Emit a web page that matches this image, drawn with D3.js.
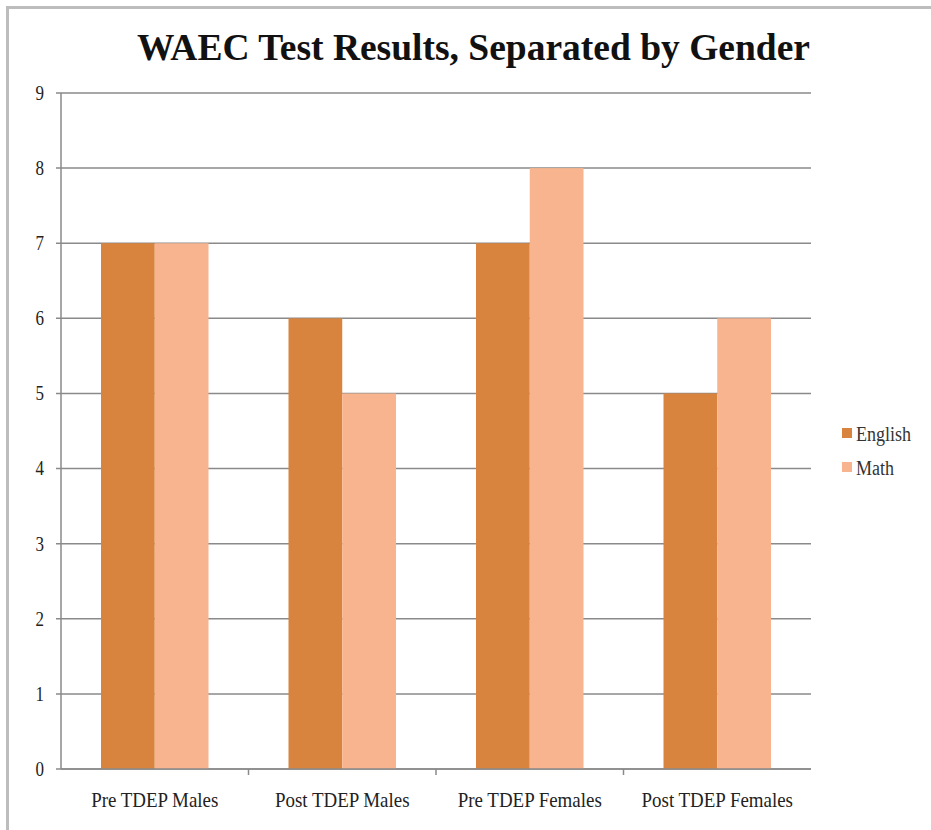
<!DOCTYPE html>
<html>
<head>
<meta charset="utf-8">
<script src="https://cdn.jsdelivr.net/npm/d3@7"></script>
<style>
  body { margin: 0; background: #fff; }
  svg { display: block; }
</style>
</head>
<body>
<script>
// chart data
const categories = ["Pre TDEP Males", "Post TDEP Males", "Pre TDEP Females", "Post TDEP Females"];
const series = ["English", "Math"];
const english = [7, 6, 7, 5];
const math = [7, 5, 8, 6];
const yTicks = [0, 1, 2, 3, 4, 5, 6, 7, 8, 9];

const colors = { English: "#d9843e", Math: "#f7b48e" };
const values = { English: english, Math: math };

const W = 931, H = 830;
const margin = {top: 93, right: 120, bottom: 61, left: 61};
const width = W - margin.left - margin.right,
    height = H - margin.top - margin.bottom;

const svg = d3.select("body").append("svg")
    .attr("width", W)
    .attr("height", H);

// squeeze serif text a little, the original font is narrower
function condense(sel, k) {
    sel.each(function() {
        const w = this.getComputedTextLength();
        d3.select(this)
            .attr("textLength", w * k)
            .attr("lengthAdjust", "spacingAndGlyphs");
    });
}

// frame of the screenshot
svg.append("rect")
    .attr("x", 7.5).attr("y", 7.5)
    .attr("width", W).attr("height", H)
    .attr("fill", "none")
    .attr("stroke", "#bdbdbd")
    .attr("stroke-width", 3);

svg.append("text")
    .attr("x", 137).attr("y", 60)
    .attr("textLength", 673)
    .attr("lengthAdjust", "spacingAndGlyphs")
    .style("font-family", "'Liberation Serif', serif")
    .style("font-weight", "bold")
    .style("font-size", "37px")
    .attr("fill", "#111")
    .text("WAEC Test Results, Separated by Gender");

const g = svg.append("g")
    .attr("transform", "translate(" + margin.left + "," + margin.top + ")");

const x0 = d3.scaleBand().domain(categories).range([0, width]);
const x1 = d3.scaleBand().domain(series)
    .range([40, x0.bandwidth() - 40]);
const y = d3.scaleLinear().domain([0, 9]).range([height, 0]);

// gridlines
g.append("g")
    .selectAll("line")
    .data(yTicks)
    .join("line")
    .attr("x1", -5).attr("x2", width)
    .attr("y1", d => y(d)).attr("y2", d => y(d))
    .attr("stroke", "#8a8a8a")
    .attr("stroke-width", 1.5);

// bars
const groups = g.append("g")
    .selectAll("g")
    .data(categories)
    .join("g")
    .attr("transform", d => "translate(" + x0(d) + ",0)");

groups.selectAll("rect")
    .data((d, i) => series.map(s => ({ key: s, value: values[s][i] })))
    .join("rect")
    .attr("x", d => x1(d.key))
    .attr("y", d => y(d.value))
    .attr("width", x1.bandwidth())
    .attr("height", d => y(0) - y(d.value))
    .attr("fill", d => colors[d.key]);

// y axis
const yAxis = g.append("g")
    .call(d3.axisLeft(y).tickValues(yTicks).tickSize(5).tickPadding(12).tickFormat(d3.format("d")));
yAxis.select(".domain").attr("stroke", "#8a8a8a").attr("stroke-width", 1.5).attr("d", "M0," + height + "V0");
yAxis.selectAll(".tick line").attr("stroke", "none");
yAxis.selectAll("text")
    .style("font-family", "'Liberation Serif', serif")
    .style("font-size", "20px")
    .attr("fill", "#222")
    .call(condense, 0.85);

// x axis
const xAxis = g.append("g")
    .attr("transform", "translate(0," + height + ")")
    .call(d3.axisBottom(x0).tickSize(0).tickPadding(22));
xAxis.select(".domain").attr("stroke", "#8a8a8a").attr("stroke-width", 1.5).attr("d", "M0,0H" + width);
xAxis.selectAll("text")
    .style("font-family", "'Liberation Serif', serif")
    .style("font-size", "22px")
    .attr("fill", "#222")
    .call(condense, 0.86);
xAxis.append("g")
    .selectAll("line")
    .data(categories.slice(1))
    .join("line")
    .attr("x1", d => x0(d)).attr("x2", d => x0(d))
    .attr("y1", 0).attr("y2", 6)
    .attr("stroke", "#8a8a8a")
    .attr("stroke-width", 1.5);

// legend
const legend = svg.append("g")
    .attr("transform", "translate(842,428)");
const item = legend.selectAll("g")
    .data(series)
    .join("g")
    .attr("transform", (d, i) => "translate(0," + i * 34 + ")");
item.append("rect")
    .attr("width", 10).attr("height", 10)
    .attr("fill", d => colors[d]);
item.append("text")
    .attr("x", 14).attr("y", 13)
    .style("font-family", "'Liberation Serif', serif")
    .style("font-size", "20px")
    .attr("fill", "#333")
    .text(d => d)
    .call(condense, 0.9);
</script>
</body>
</html>
